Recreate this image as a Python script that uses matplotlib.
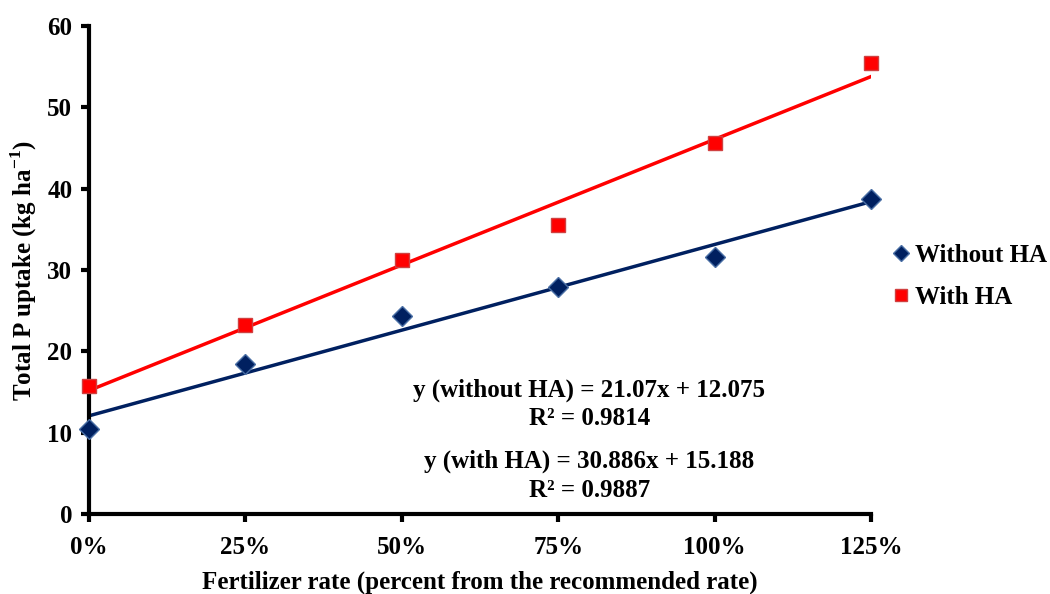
import numpy as np
import matplotlib
matplotlib.use('Agg')
import matplotlib.pyplot as plt
from matplotlib.ticker import FuncFormatter

plt.rcParams['font.family'] = ['Liberation Serif', 'DejaVu Serif']
plt.rcParams['font.weight'] = 'bold'
plt.rcParams['mathtext.fontset'] = 'custom'
plt.rcParams['mathtext.rm'] = 'Liberation Serif:bold'
plt.rcParams['mathtext.bf'] = 'Liberation Serif:bold'

# fertilizer rate (fraction of recommended rate)
rate = [0, 0.25, 0.5, 0.75, 1.0, 1.25]
without_ha = [10.5, 18.5, 24.3, 27.9, 31.6, 38.8]
with_ha = [15.7, 23.2, 31.2, 35.6, 45.6, 55.5]

# trendline coefficients as printed on the chart
fit_without = [21.07, 12.075]
fit_with = [30.886, 15.188]

fig = plt.figure(figsize=(10.5, 5.94), dpi=100)
ax = fig.add_axes([0.0848, 0.1347, 0.7447, 0.8213])

xs = np.array([rate[0], rate[-1]])
ax.plot(xs, np.polyval(fit_without, xs), color='#002060', lw=2.5, zorder=2)
ax.plot(xs, np.polyval(fit_with, xs), color='#FF0000', lw=2.5, zorder=2)

ax.plot(rate, without_ha, 'D', color='#002060', mec='#4a6fa5', mew=1,
        ms=10, label='Without HA', clip_on=False, zorder=3)
ax.plot(rate, with_ha, 's', color='#FF0000', mec='#d04040', mew=1,
        ms=10.5, label='With HA', clip_on=False, zorder=3)

ax.set_xlim(0, 1.25)
ax.set_ylim(0, 60)
ax.set_xticks(rate)
ax.xaxis.set_major_formatter(FuncFormatter(lambda v, p: '%d%%' % round(v * 100)))
ax.set_yticks(range(0, 61, 10))

for s in ['top', 'right']:
    ax.spines[s].set_visible(False)
for s in ['left', 'bottom']:
    ax.spines[s].set_linewidth(3)
ax.tick_params(width=3, length=6, labelsize=18, direction='out')
ax.tick_params(axis='x', pad=10)
ax.tick_params(axis='y', pad=6)

ax.set_xlabel('Fertilizer rate (percent from the recommended rate)', fontsize=18,
              fontweight='bold', labelpad=8)
ax.set_ylabel('Total P uptake (kg ha$^{-1}$)', fontsize=18,
              fontweight='bold', labelpad=6)

ax.text(0.8, 13.5, 'y (without HA) = 21.07x + 12.075\nR² = 0.9814', ha='center',
        va='center', fontsize=18, fontweight='bold', linespacing=1.3)
ax.text(0.8, 4.7, 'y (with HA) = 30.886x + 15.188\nR² = 0.9887', ha='center',
        va='center', fontsize=18, fontweight='bold', linespacing=1.3)

leg = fig.legend(loc='center left', bbox_to_anchor=(0.826, 0.535), frameon=False,
                 fontsize=18, handletextpad=0.1, handlelength=0.9,
                 labelspacing=0.75, markerscale=0.85)

fig.savefig('out.png', dpi=100)
